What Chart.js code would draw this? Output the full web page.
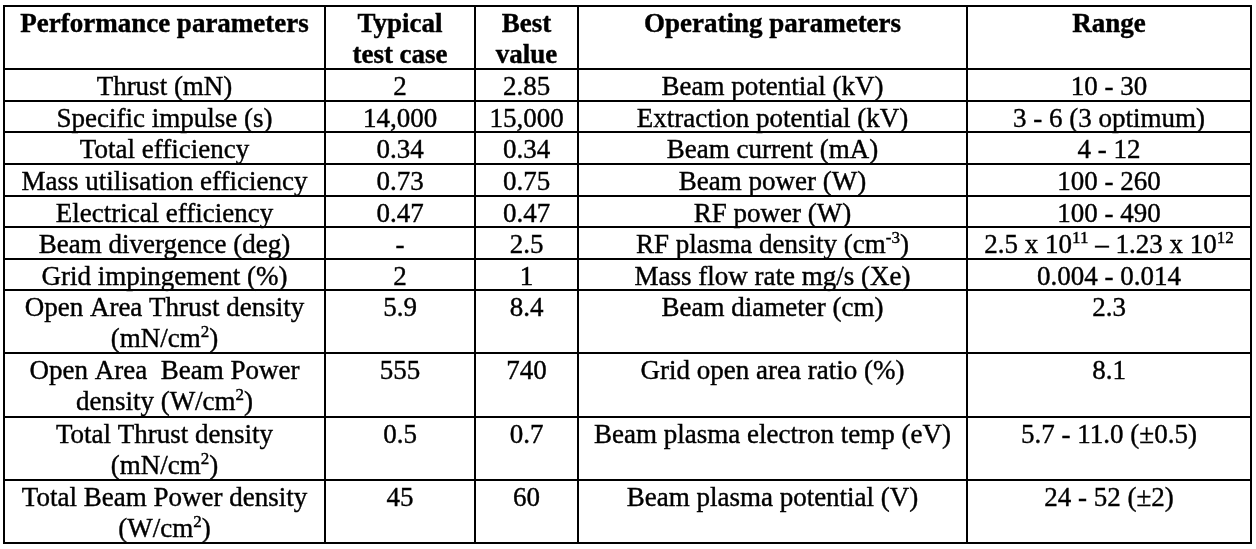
<!DOCTYPE html>
<html>
<head>
<meta charset="utf-8">
<script src="https://cdn.jsdelivr.net/npm/chart.js@4.4.1/dist/chart.umd.min.js"></script>
<style>
    html, body { margin: 0; padding: 0; background: #fff; }
    #wrap { position: relative; width: 1256px; height: 549px; }
</style>
</head>
<body>
<div id="wrap"><canvas id="table-chart"></canvas></div>
<script>
// Table content ("^{..}" marks a superscript, "\n" a line break)
const headers = ['Performance parameters', 'Typical\ntest case', 'Best\nvalue', 'Operating parameters', 'Range'];

const performanceParams = [
    'Thrust (mN)',
    'Specific impulse (s)',
    'Total efficiency',
    'Mass utilisation efficiency',
    'Electrical efficiency',
    'Beam divergence (deg)',
    'Grid impingement (%)',
    'Open Area Thrust density\n(mN/cm^{2})',
    'Open Area  Beam Power\ndensity (W/cm^{2})',
    'Total Thrust density\n(mN/cm^{2})',
    'Total Beam Power density\n(W/cm^{2})'
];
const typicalCase = ['2', '14,000', '0.34', '0.73', '0.47', '-', '2', '5.9', '555', '0.5', '45'];
const bestValue = ['2.85', '15,000', '0.34', '0.75', '0.47', '2.5', '1', '8.4', '740', '0.7', '60'];
const operatingParams = [
    'Beam potential (kV)',
    'Extraction potential (kV)',
    'Beam current (mA)',
    'Beam power (W)',
    'RF power (W)',
    'RF plasma density (cm^{-3})',
    'Mass flow rate mg/s (Xe)',
    'Beam diameter (cm)',
    'Grid open area ratio (%)',
    'Beam plasma electron temp (eV)',
    'Beam plasma potential (V)'
];
const rangeValues = [
    '10 - 30',
    '3 - 6 (3 optimum)',
    '4 - 12',
    '100 - 260',
    '100 - 490',
    '2.5 x 10^{11} \u2013 1.23 x 10^{12}',
    '0.004 - 0.014',
    '2.3',
    '8.1',
    '5.7 - 11.0 (\u00b10.5)',
    '24 - 52 (\u00b12)'
];

// layout: column widths in table units
const colWidths = [321, 150, 103, 389, 284];

const FONT = '"Liberation Serif", "Times New Roman", serif';
const FONT_SIZE = 27;
const SUP_SIZE = 17;

// build rows (header + body)
const rows = [headers];
for (let i = 0; i < performanceParams.length; i++) {
    rows.push([performanceParams[i], typicalCase[i], bestValue[i], operatingParams[i], rangeValues[i]]);
}

// each row takes as many units as its tallest cell has lines
const rowUnits = rows.map(r => Math.max(...r.map(c => c.split('\n').length)));
const rowEdges = [0];
rowUnits.forEach(u => rowEdges.push(rowEdges[rowEdges.length - 1] + u));
const colEdges = [0];
colWidths.forEach(w => colEdges.push(colEdges[colEdges.length - 1] + w));

function splitRich(line) {
    const parts = [];
    const re = /\^\{([^}]*)\}/g;
    let last = 0, m;
    while ((m = re.exec(line)) !== null) {
        if (m.index > last) parts.push({ text: line.slice(last, m.index), sup: false });
        parts.push({ text: m[1], sup: true });
        last = re.lastIndex;
    }
    if (last < line.length) parts.push({ text: line.slice(last), sup: false });
    return parts;
}

function drawRich(ctx, line, cx, baseY, bold) {
    const weight = bold ? 'bold ' : '';
    const parts = splitRich(line);
    let total = 0;
    parts.forEach(p => {
        ctx.font = weight + (p.sup ? SUP_SIZE : FONT_SIZE) + 'px ' + FONT;
        p.w = ctx.measureText(p.text).width;
        total += p.w;
    });
    let x = cx - total / 2;
    parts.forEach(p => {
        ctx.font = weight + (p.sup ? SUP_SIZE : FONT_SIZE) + 'px ' + FONT;
        const py = p.sup ? baseY - 10 : baseY;
        ctx.fillText(p.text, x, py);
        // slight outline so the text is as heavy as the scanned original
        ctx.strokeText(p.text, x, py);
        x += p.w;
    });
}

const tablePlugin = {
    id: 'tablePlugin',
    afterDraw(chart) {
        const { ctx, scales: { x, y } } = chart;
        ctx.save();
        ctx.fillStyle = '#000';
        ctx.strokeStyle = '#000';
        ctx.lineWidth = 0.4;
        ctx.textAlign = 'left';
        ctx.textBaseline = 'alphabetic';

        rows.forEach((row, r) => {
            const top = y.getPixelForValue(rowEdges[r]);
            row.forEach((cell, c) => {
                const cx = (x.getPixelForValue(colEdges[c]) + x.getPixelForValue(colEdges[c + 1])) / 2;
                cell.split('\n').forEach((line, li) => {
                    drawRich(ctx, line, cx, top + 26 + li * 31, r === 0);
                });
            });
        });

        // grid lines
        ctx.lineWidth = 2;
        const left = Math.round(x.getPixelForValue(colEdges[0]));
        const right = Math.round(x.getPixelForValue(colEdges[colEdges.length - 1]));
        const top = Math.round(y.getPixelForValue(rowEdges[0]));
        const bottom = Math.round(y.getPixelForValue(rowEdges[rowEdges.length - 1]));
        ctx.beginPath();
        rowEdges.forEach(v => {
            const py = Math.round(y.getPixelForValue(v));
            ctx.moveTo(left - 1, py);
            ctx.lineTo(right + 1, py);
        });
        colEdges.forEach(v => {
            const px = Math.round(x.getPixelForValue(v));
            ctx.moveTo(px, top - 1);
            ctx.lineTo(px, bottom + 1);
        });
        ctx.stroke();
        ctx.restore();
    }
};

const ctx = document.getElementById('table-chart').getContext('2d');
new Chart(ctx, {
    type: 'scatter',
    data: { datasets: [{ data: [] }] },
    options: {
        responsive: true,
        maintainAspectRatio: false,
        animation: false,
        devicePixelRatio: 1,
        layout: { padding: { left: 4, right: 5, top: 6, bottom: 6 } },
        plugins: { legend: { display: false }, tooltip: { enabled: false } },
        scales: {
            x: { type: 'linear', display: false, min: 0, max: colEdges[colEdges.length - 1] },
            y: { type: 'linear', display: false, min: 0, max: rowEdges[rowEdges.length - 1], reverse: true }
        }
    },
    plugins: [tablePlugin]
});
</script>
</body>
</html>
